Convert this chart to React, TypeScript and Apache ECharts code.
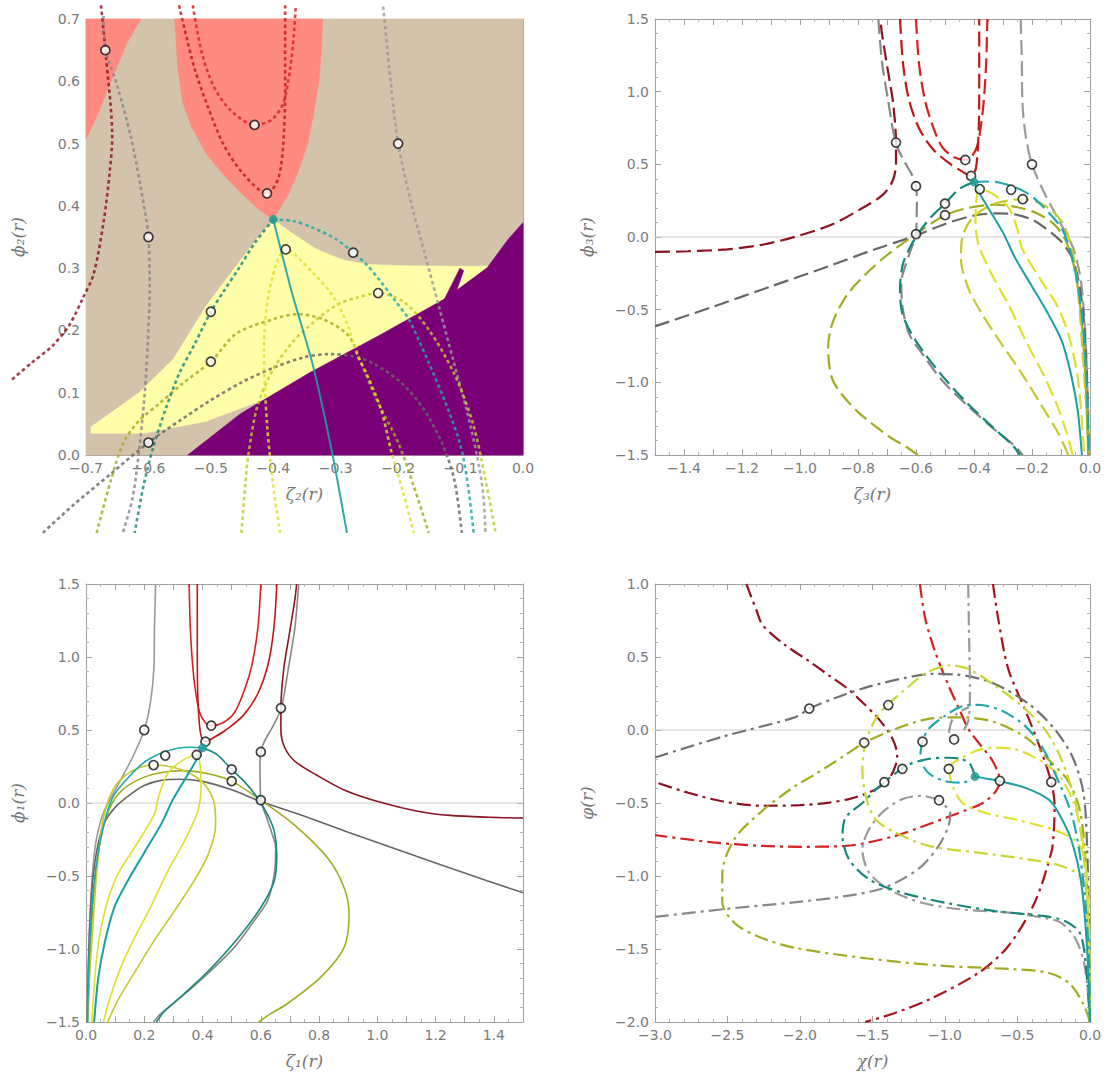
import React, { useEffect, useRef } from "react";
import * as echarts from "echarts";

type Pt = [number, number];

// ---------------- Panel 1: ζ2(r), ϕ2(r) ----------------
const p1Tan: Pt[] = [[-0.7, 0], [0, 0], [0, 0.7], [-0.7, 0.7]];
const p1SalmonLeft: Pt[] = [[-0.7, 0.7], [-0.612, 0.7], [-0.635, 0.66], [-0.66, 0.6], [-0.68, 0.55], [-0.7, 0.507]];
const p1SalmonMid: Pt[] = [[-0.558, 0.7], [-0.321, 0.7], [-0.323, 0.65], [-0.327, 0.6], [-0.335, 0.55], [-0.345, 0.5], [-0.36, 0.455], [-0.375, 0.42], [-0.39, 0.395], [-0.4, 0.378], [-0.413, 0.387], [-0.43, 0.4], [-0.453, 0.422], [-0.48, 0.45], [-0.507, 0.483], [-0.53, 0.525], [-0.545, 0.565], [-0.553, 0.62]];
const p1Yellow: Pt[] = [[-0.4, 0.378], [-0.37, 0.356], [-0.33, 0.33], [-0.288, 0.313], [-0.25, 0.306], [-0.2, 0.304], [-0.1, 0.303], [-0.055, 0.303], [-0.055, 0.28], [-0.3, 0.14], [-0.42, 0.087], [-0.508, 0.054], [-0.607, 0.035], [-0.692, 0.035], [-0.692, 0.045], [-0.65, 0.075], [-0.615, 0.1], [-0.56, 0.154], [-0.507, 0.24], [-0.453, 0.312], [-0.42, 0.355]];
const p1Purple: Pt[] = [[-0.537, 0], [-0.453, 0.066], [-0.342, 0.132], [-0.232, 0.191], [-0.123, 0.252], [-0.057, 0.301], [-0.024, 0.346], [0, 0.373], [0, 0]];
const p1PurpleSpike: Pt[] = [[-0.14, 0.222], [-0.101, 0.3], [-0.095, 0.296], [-0.115, 0.24], [-0.128, 0.222]];

const p1DarkRed: Pt[] = [[-0.676, 0.722], [-0.669, 0.65], [-0.658, 0.51], [-0.662, 0.455], [-0.672, 0.373], [-0.688, 0.29], [-0.705, 0.252], [-0.727, 0.208], [-0.754, 0.175], [-0.787, 0.148], [-0.82, 0.12]];
const p1RedUpper: Pt[] = [[-0.529, 0.722], [-0.515, 0.648], [-0.496, 0.593], [-0.469, 0.554], [-0.43, 0.53], [-0.403, 0.538], [-0.384, 0.565], [-0.373, 0.62], [-0.367, 0.675], [-0.364, 0.722]];
const p1RedLower: Pt[] = [[-0.551, 0.722], [-0.54, 0.675], [-0.526, 0.62], [-0.507, 0.565], [-0.48, 0.499], [-0.447, 0.45], [-0.41, 0.42], [-0.392, 0.444], [-0.384, 0.499], [-0.381, 0.593], [-0.381, 0.675], [-0.381, 0.722]];
const p1GrayLeft: Pt[] = [[-0.672, 0.705], [-0.668, 0.649], [-0.65, 0.593], [-0.628, 0.51], [-0.612, 0.428], [-0.6, 0.35], [-0.598, 0.263], [-0.601, 0.181], [-0.606, 0.098], [-0.614, 0.016], [-0.625, -0.067], [-0.641, -0.125]];
const p1GrayRight: Pt[] = [[-0.224, 0.72], [-0.212, 0.6], [-0.2, 0.5], [-0.178, 0.4], [-0.156, 0.318], [-0.134, 0.236], [-0.112, 0.153], [-0.09, 0.071], [-0.074, 0.0], [-0.064, -0.06], [-0.06, -0.125]];
const p1DarkGray: Pt[] = [[-0.769, -0.125], [-0.72, -0.08], [-0.66, -0.03], [-0.6, 0.02], [-0.55, 0.055], [-0.5, 0.088], [-0.45, 0.117], [-0.4, 0.14], [-0.35, 0.157], [-0.31, 0.162], [-0.27, 0.158], [-0.238, 0.146], [-0.195, 0.116], [-0.16, 0.075], [-0.13, 0.02], [-0.11, -0.04], [-0.098, -0.125]];
const p1TealLeft: Pt[] = [[-0.4, 0.378], [-0.43, 0.34], [-0.455, 0.3], [-0.48, 0.262], [-0.5, 0.23], [-0.525, 0.18], [-0.551, 0.13], [-0.572, 0.075], [-0.593, 0.01], [-0.608, -0.05], [-0.622, -0.125]];
const p1TealRight: Pt[] = [[-0.4, 0.378], [-0.37, 0.376], [-0.337, 0.365], [-0.3, 0.347], [-0.272, 0.325], [-0.25, 0.305], [-0.23, 0.281], [-0.205, 0.248], [-0.182, 0.216], [-0.15, 0.146], [-0.123, 0.081], [-0.1, 0.015], [-0.088, -0.05], [-0.079, -0.125]];
const p1TealSolid: Pt[] = [[-0.4, 0.378], [-0.37, 0.26], [-0.337, 0.146], [-0.305, 0.0], [-0.282, -0.125]];
const p1OliveB: Pt[] = [[-0.683, -0.125], [-0.66, -0.04], [-0.64, 0.02], [-0.615, 0.055], [-0.582, 0.083], [-0.545, 0.115], [-0.5, 0.15], [-0.459, 0.195], [-0.4, 0.218], [-0.362, 0.226], [-0.32, 0.218], [-0.28, 0.192], [-0.26, 0.15], [-0.235, 0.09], [-0.2, 0.02], [-0.175, -0.05], [-0.151, -0.125]];
const p1YellowC: Pt[] = [[-0.451, -0.125], [-0.445, -0.05], [-0.44, 0.0], [-0.425, 0.08], [-0.4, 0.138], [-0.37, 0.18], [-0.346, 0.204], [-0.3, 0.24], [-0.265, 0.253], [-0.232, 0.26], [-0.19, 0.245], [-0.15, 0.2], [-0.11, 0.13], [-0.08, 0.05], [-0.06, -0.04], [-0.044, -0.125]];
const p1YellowD: Pt[] = [[-0.389, -0.125], [-0.4, -0.05], [-0.41, 0.05], [-0.415, 0.17], [-0.405, 0.27], [-0.38, 0.33], [-0.335, 0.291], [-0.303, 0.253], [-0.281, 0.209], [-0.265, 0.16], [-0.249, 0.127], [-0.227, 0.072], [-0.211, 0.006], [-0.192, -0.06], [-0.175, -0.125]];

const zetaPts: Pt[] = [[-0.669, 0.65], [-0.43, 0.53], [-0.41, 0.42], [-0.2, 0.5], [-0.6, 0.35], [-0.38, 0.33], [-0.272, 0.325], [-0.232, 0.26], [-0.5, 0.23], [-0.5, 0.15], [-0.6, 0.02]];
const zetaFilled: Pt[] = [[-0.4, 0.378]];

// ---------------- Panel 2: ζ3(r), ϕ3(r) ----------------
const p2DarkRed: Pt[] = [[-1.5, -0.103], [-1.386, -0.098], [-1.25, -0.085], [-1.138, -0.056], [-1.014, 0.003], [-0.89, 0.086], [-0.791, 0.192], [-0.717, 0.286], [-0.682, 0.38], [-0.669, 0.5], [-0.669, 0.65], [-0.679, 0.923], [-0.698, 1.158], [-0.717, 1.394], [-0.723, 1.5]];
const p2GrayLeft: Pt[] = [[-0.73, 1.5], [-0.717, 1.2], [-0.697, 0.95], [-0.67, 0.65], [-0.64, 0.52], [-0.612, 0.42], [-0.6, 0.35], [-0.597, 0.25], [-0.598, 0.12], [-0.6, 0.02], [-0.62, -0.1], [-0.645, -0.25], [-0.651, -0.307], [-0.646, -0.489], [-0.623, -0.67], [-0.577, -0.807], [-0.509, -0.989], [-0.417, -1.17], [-0.326, -1.33], [-0.257, -1.443], [-0.232, -1.5]];
const p2TealLeft: Pt[] = [[-0.4, 0.378], [-0.451, 0.33], [-0.5, 0.23], [-0.543, 0.148], [-0.589, 0.034], [-0.623, -0.08], [-0.646, -0.193], [-0.655, -0.352], [-0.646, -0.534], [-0.6, -0.716], [-0.52, -0.93], [-0.425, -1.14], [-0.335, -1.31], [-0.268, -1.43], [-0.242, -1.5]];
const p2RedUpper: Pt[] = [[-0.6, 1.5], [-0.59, 1.2], [-0.57, 0.95], [-0.545, 0.78], [-0.51, 0.62], [-0.47, 0.55], [-0.43, 0.53], [-0.41, 0.55], [-0.39, 0.62], [-0.375, 0.78], [-0.365, 0.97], [-0.358, 1.2], [-0.354, 1.5]];
const p2RedLower: Pt[] = [[-0.655, 1.5], [-0.645, 1.2], [-0.625, 0.95], [-0.59, 0.75], [-0.54, 0.6], [-0.48, 0.5], [-0.44, 0.45], [-0.41, 0.42], [-0.395, 0.46], [-0.387, 0.6], [-0.383, 0.8], [-0.382, 1.1], [-0.382, 1.5]];
const p2GrayRight: Pt[] = [[-0.239, 1.5], [-0.235, 1.2], [-0.233, 0.923], [-0.222, 0.7], [-0.2, 0.5], [-0.159, 0.31], [-0.109, 0.121], [-0.06, -0.067], [-0.035, -0.256], [-0.022, -0.49], [-0.013, -0.8], [-0.008, -1.1], [-0.004, -1.5]];
const p2DarkGray: Pt[] = [[-1.5, -0.615], [-1.3, -0.48], [-1.1, -0.34], [-0.9, -0.2], [-0.75, -0.09], [-0.6, 0.01], [-0.5, 0.09], [-0.4, 0.148], [-0.32, 0.163], [-0.257, 0.155], [-0.2, 0.12], [-0.16, 0.07], [-0.1, -0.03], [-0.06, -0.15], [-0.035, -0.35], [-0.02, -0.6], [-0.01, -1.0], [-0.004, -1.5]];
const p2TealRight: Pt[] = [[-0.4, 0.378], [-0.36, 0.382], [-0.314, 0.375], [-0.257, 0.341], [-0.22, 0.305], [-0.189, 0.261], [-0.143, 0.17], [-0.097, 0.057], [-0.07, -0.08], [-0.045, -0.3], [-0.025, -0.6], [-0.012, -1.0], [-0.005, -1.5]];
const p2TealSolid: Pt[] = [[-0.4, 0.378], [-0.375, 0.28], [-0.349, 0.193], [-0.3, 0.03], [-0.257, -0.148], [-0.2, -0.34], [-0.143, -0.534], [-0.097, -0.716], [-0.065, -0.95], [-0.042, -1.2], [-0.028, -1.5]];
const p2OliveA: Pt[] = [[-0.593, -1.5], [-0.634, -1.443], [-0.691, -1.375], [-0.806, -1.193], [-0.886, -0.989], [-0.903, -0.761], [-0.886, -0.58], [-0.829, -0.375], [-0.714, -0.148], [-0.6, 0.02], [-0.5, 0.15], [-0.42, 0.2], [-0.33, 0.222], [-0.25, 0.205], [-0.18, 0.16], [-0.12, 0.08], [-0.08, -0.04], [-0.05, -0.25], [-0.03, -0.55], [-0.015, -1.0], [-0.006, -1.5]];
const p2YellowC: Pt[] = [[-0.075, -1.5], [-0.109, -1.352], [-0.17, -1.15], [-0.234, -0.943], [-0.3, -0.75], [-0.371, -0.534], [-0.42, -0.35], [-0.445, -0.15], [-0.44, 0.0], [-0.41, 0.12], [-0.36, 0.2], [-0.3, 0.245], [-0.232, 0.26], [-0.18, 0.24], [-0.13, 0.18], [-0.09, 0.08], [-0.06, -0.1], [-0.04, -0.4], [-0.025, -0.8], [-0.012, -1.2], [-0.006, -1.5]];
const p2YellowD: Pt[] = [[-0.06, -1.5], [-0.08, -1.35], [-0.115, -1.15], [-0.16, -0.95], [-0.22, -0.72], [-0.28, -0.47], [-0.33, -0.29], [-0.36, -0.17], [-0.385, -0.05], [-0.395, 0.1], [-0.392, 0.25], [-0.38, 0.33], [-0.33, 0.29], [-0.28, 0.2], [-0.25, 0.05], [-0.234, -0.08], [-0.166, -0.307], [-0.109, -0.489], [-0.07, -0.7], [-0.04, -1.0], [-0.02, -1.5]];

// ---------------- Panel 3: ζ1(r), ϕ1(r) (mirror image of panel 2) ----------------
const mirror = (a: Pt[]): Pt[] => a.map(([x, y]) => [-x, y] as Pt);

// ---------------- Panel 4: χ(r), φ(r) ----------------
const p4DarkRedLeft: Pt[] = [[-2.37, 1.0], [-2.3, 0.82], [-2.256, 0.716], [-2.1, 0.58], [-1.95, 0.48], [-1.799, 0.373], [-1.68, 0.29], [-1.57, 0.19], [-1.47, 0.09], [-1.387, -0.016], [-1.345, -0.1], [-1.33, -0.176], [-1.342, -0.245], [-1.387, -0.336], [-1.45, -0.39], [-1.524, -0.428], [-1.65, -0.47], [-1.799, -0.497], [-2.0, -0.515], [-2.256, -0.519], [-2.53, -0.49], [-2.77, -0.43], [-3.0, -0.357]];
const p4RedMid: Pt[] = [[-1.173, 1.0], [-1.136, 0.762], [-1.067, 0.533], [-0.976, 0.305], [-0.9, 0.14], [-0.839, 0.007], [-0.75, -0.11], [-0.679, -0.199], [-0.635, -0.29], [-0.622, -0.348], [-0.656, -0.428], [-0.74, -0.5], [-0.839, -0.543], [-1.113, -0.645], [-1.342, -0.725], [-1.685, -0.794], [-2.0, -0.8], [-2.256, -0.794], [-2.6, -0.77], [-3.0, -0.72]];
const p4DarkRedRight: Pt[] = [[-0.669, 1.0], [-0.633, 0.762], [-0.564, 0.419], [-0.45, 0.144], [-0.358, -0.085], [-0.267, -0.357], [-0.244, -0.519], [-0.25, -0.7], [-0.267, -0.84], [-0.382, -1.183], [-0.564, -1.481], [-0.77, -1.664], [-1.113, -1.847], [-1.35, -1.94], [-1.55, -2.0]];
const p4GrayUpper: Pt[] = [[-3.0, -0.188], [-2.524, -0.043], [-2.028, 0.089], [-1.936, 0.147], [-1.7, 0.24], [-1.532, 0.295], [-1.284, 0.355], [-1.086, 0.384], [-0.912, 0.379], [-0.664, 0.319], [-0.416, 0.174], [-0.243, 0.005], [-0.119, -0.188], [-0.045, -0.43], [-0.02, -0.8], [-0.008, -1.3], [0, -2.0]];
const p4GrayLower: Pt[] = [[-3.0, -1.28], [-2.524, -1.227], [-2.028, -1.179], [-1.7, -1.14], [-1.456, -1.092], [-1.296, -1.023], [-1.159, -0.931], [-1.044, -0.794], [-0.976, -0.657], [-0.964, -0.565], [-0.999, -0.519], [-1.04, -0.481]];
const p4GrayLoop: Pt[] = [[-1.04, -0.481], [-1.159, -0.451], [-1.296, -0.474], [-1.433, -0.565], [-1.524, -0.68], [-1.57, -0.817], [-1.524, -0.977], [-1.387, -1.092], [-1.159, -1.183], [-0.884, -1.229], [-0.541, -1.252], [-0.3, -1.29], [-0.2, -1.32], [-0.1, -1.43], [-0.04, -1.6], [-0.01, -1.85], [0, -2.0]];
const p4GrayVertical: Pt[] = [[-0.84, 1.0], [-0.835, 0.7], [-0.83, 0.45], [-0.828, 0.3], [-0.83, 0.15], [-0.84, 0.06], [-0.87, 0.0]];
const p4GrayHook: Pt[] = [[-0.972, -0.02], [-0.955, 0.06], [-0.92, 0.11], [-0.87, 0.14], [-0.835, 0.155]];
const p4OliveLight: Pt[] = [[0, -2.0], [-0.01, -1.5], [-0.03, -1.15], [-0.07, -1.0], [-0.198, -0.931], [-0.427, -0.886], [-0.77, -0.84], [-1.113, -0.794], [-1.342, -0.703], [-1.479, -0.611], [-1.547, -0.451], [-1.57, -0.268], [-1.547, -0.085], [-1.479, 0.076], [-1.396, 0.174], [-1.296, 0.259], [-1.15, 0.38], [-1.067, 0.419], [-0.976, 0.442], [-0.839, 0.419], [-0.656, 0.304], [-0.473, 0.167], [-0.313, 0.007], [-0.198, -0.199], [-0.1, -0.5], [-0.04, -0.9], [-0.01, -1.5], [0, -2.0]];
const p4Olive: Pt[] = [[0, -2.0], [-0.045, -1.879], [-0.144, -1.734], [-0.292, -1.662], [-0.54, -1.638], [-1.036, -1.614], [-1.532, -1.565], [-2.028, -1.493], [-2.276, -1.42], [-2.45, -1.324], [-2.536, -1.179], [-2.536, -0.986], [-2.45, -0.744], [-2.256, -0.55], [-2.028, -0.38], [-1.913, -0.314], [-1.7, -0.18], [-1.559, -0.089], [-1.342, 0.007], [-1.113, 0.076], [-0.884, 0.087], [-0.656, 0.053], [-0.427, -0.062], [-0.267, -0.222], [-0.15, -0.35], [-0.07, -0.55], [-0.03, -0.9], [-0.01, -1.4], [0, -2.0]];
const p4YellowUpper: Pt[] = [[-0.974, -0.266], [-0.95, -0.23], [-0.903, -0.201], [-0.789, -0.144], [-0.674, -0.121], [-0.514, -0.133], [-0.377, -0.19], [-0.285, -0.247], [-0.2, -0.33], [-0.12, -0.48], [-0.06, -0.7], [-0.025, -1.0], [-0.008, -1.5], [0, -2.0]];
const p4YellowLower: Pt[] = [[-0.974, -0.266], [-0.965, -0.32], [-0.949, -0.384], [-0.88, -0.499], [-0.72, -0.568], [-0.514, -0.613], [-0.331, -0.659], [-0.194, -0.705], [-0.1, -0.76], [-0.045, -0.85], [-0.015, -1.1], [-0.004, -1.5], [0, -2.0]];
const p4TealSolid: Pt[] = [[-0.793, -0.319], [-0.7, -0.335], [-0.622, -0.35], [-0.445, -0.396], [-0.285, -0.476], [-0.217, -0.568], [-0.13, -0.75], [-0.06, -1.05], [-0.02, -1.5], [0, -2.0]];
const p4TealArc: Pt[] = [[0, -2.0], [-0.01, -1.5], [-0.05, -1.0], [-0.12, -0.6], [-0.244, -0.291], [-0.336, -0.108], [-0.45, 0.03], [-0.61, 0.133], [-0.77, 0.172], [-0.884, 0.162], [-0.999, 0.098], [-1.113, 0.007], [-1.155, -0.08], [-1.17, -0.18], [-1.12, -0.29], [-1.0, -0.35], [-0.88, -0.36], [-0.793, -0.319]];
const p4DarkTeal: Pt[] = [[-0.793, -0.319], [-0.83, -0.23], [-0.9, -0.195], [-0.972, -0.19], [-1.109, -0.197], [-1.247, -0.236], [-1.338, -0.293], [-1.476, -0.407], [-1.57, -0.5], [-1.685, -0.6], [-1.707, -0.725], [-1.662, -0.886], [-1.524, -1.023], [-1.296, -1.114], [-0.999, -1.183], [-0.656, -1.24], [-0.313, -1.275], [-0.17, -1.31], [-0.07, -1.39], [-0.03, -1.6], [0, -2.0]];

const chiPts: Pt[] = [[-1.936, 0.147], [-1.391, 0.171], [-1.557, -0.087], [-1.155, -0.08], [-0.937, -0.065], [-1.294, -0.266], [-1.418, -0.357], [-0.974, -0.266], [-0.622, -0.348], [-0.267, -0.357], [-1.041, -0.481]];
const chiFilled: Pt[] = [[-0.793, -0.319]];

// ---------------- colours ----------------
const C = {
  darkRed: "#8c1420",
  red: "#d42222",
  red2: "#c01818",
  gray: "#9a9a9a",
  grayMid: "#888888",
  darkGray: "#666666",
  teal: "#22a8aa",
  tealDark: "#17877c",
  olive: "#a3ab22",
  yellowOlive: "#c6c92a",
  yellow: "#dfe02c",
  oliveLight: "#cbd635",
};

const DOT = [3.5, 3];
const DASH = [15, 6];
const DASHDOT = [14, 5, 3, 5];

interface Panel {
  left: number; top: number; width: number; height: number;
  x: [number, number, number, number, boolean];
  y: [number, number, number, number];
  xName: string; yName: string;
}

const panels: Panel[] = [
  { left: 86, top: 19, width: 437, height: 436, x: [-0.7, 0, 0.1, 5, false], y: [0, 0.7, 0.1, 5], xName: "ζ₂(r)", yName: "ϕ₂(r)" },
  { left: 655, top: 19, width: 435, height: 436, x: [-1.5, 0, 0.1, 2, true], y: [-1.5, 1.5, 0.5, 5], xName: "ζ₃(r)", yName: "ϕ₃(r)" },
  { left: 86, top: 584, width: 437, height: 438, x: [0, 1.5, 0.1, 2, true], y: [-1.5, 1.5, 0.5, 5], xName: "ζ₁(r)", yName: "ϕ₁(r)" },
  { left: 655, top: 584, width: 435, height: 438, x: [-3, 0, 0.5, 5, false], y: [-2, 1, 0.5, 5], xName: "χ(r)", yName: "φ(r)" },
];

// Overlay for panel 1 curves that run past the frame: same scale, wider range, hidden axes.
const ovX: [number, number] = [-0.83, 0];
const ovY: [number, number] = [-0.14, 0.73];

const FRAME = "#a0a0a0";
const LABEL = "#7a7a7a";

const fmt = (hideOdd: boolean) => (v: number) => {
  const k = Math.round(v * 10);
  if (hideOdd && k % 2 !== 0) return "";
  const s = (k / 10).toFixed(1);
  return s === "-0.0" ? "0.0" : s.replace("-", "−");
};

const nameStyle = { fontFamily: "DejaVu Serif", fontStyle: "italic", fontSize: 17, color: "#777" };

function buildAxes() {
  const xAxis: any[] = [];
  const yAxis: any[] = [];
  panels.forEach((p, i) => {
    const [xmin, xmax, xint, xminor, hideOdd] = p.x;
    const [ymin, ymax, yint, yminor] = p.y;
    const common = {
      type: "value",
      gridIndex: i,
      splitLine: { show: false },
      axisLine: { show: true, onZero: false, lineStyle: { color: FRAME, width: 1 } },
      axisTick: { show: true, inside: true, length: 6, lineStyle: { color: FRAME } },
      minorSplitLine: { show: false },
    };
    const minorX = { show: true, splitNumber: xminor, length: 3, lineStyle: { color: "#b4b4b4" } };
    const minorY = { show: true, splitNumber: yminor, length: 3, lineStyle: { color: "#b4b4b4" } };
    xAxis.push({
      ...common, position: "bottom", min: xmin, max: xmax, interval: xint, minorTick: minorX,
      axisLabel: { show: true, color: LABEL, fontFamily: "DejaVu Sans", fontSize: 14, margin: 6, formatter: fmt(hideOdd), showMinLabel: true, showMaxLabel: true },
      name: p.xName, nameLocation: "middle", nameGap: 30, nameTextStyle: nameStyle,
    });
    xAxis.push({ ...common, position: "top", min: xmin, max: xmax, interval: xint, minorTick: minorX, axisLabel: { show: false } });
    yAxis.push({
      ...common, position: "left", min: ymin, max: ymax, interval: yint, minorTick: minorY,
      axisLabel: { show: true, color: LABEL, fontFamily: "DejaVu Sans", fontSize: 14, margin: 6, formatter: fmt(false), showMinLabel: true, showMaxLabel: true },
      name: p.yName, nameLocation: "middle", nameGap: 60, nameRotate: 90, nameTextStyle: nameStyle,
    });
    yAxis.push({ ...common, position: "right", min: ymin, max: ymax, interval: yint, minorTick: minorY, axisLabel: { show: false } });
  });
  // overlay axes (index 8)
  xAxis.push({ type: "value", gridIndex: 4, min: ovX[0], max: ovX[1], show: false });
  yAxis.push({ type: "value", gridIndex: 4, min: ovY[0], max: ovY[1], show: false });
  return { xAxis, yAxis };
}

function line(data: Pt[], color: string, dash: any, width: number, axisIdx: number, opts: any = {}) {
  return {
    type: "line",
    xAxisIndex: axisIdx,
    yAxisIndex: axisIdx,
    data,
    symbol: "none",
    showSymbol: false,
    smooth: opts.smooth ?? 0.3,
    clip: opts.clip ?? true,
    silent: true,
    z: opts.z ?? 3,
    lineStyle: { color, width, type: dash, opacity: opts.opacity ?? 1, cap: "butt" },
  };
}

function poly(points: Pt[], color: string, axisIdx: number) {
  return {
    type: "custom",
    xAxisIndex: axisIdx,
    yAxisIndex: axisIdx,
    z: 1,
    silent: true,
    clip: false,
    data: [points[0]],
    renderItem: (_params: any, api: any) => ({
      type: "polygon",
      shape: { points: points.map((p) => api.coord(p)) },
      style: { fill: color, stroke: color, lineWidth: 0.6 },
    }),
  };
}

function dots(data: Pt[], axisIdx: number, filled = false) {
  return {
    type: "scatter",
    xAxisIndex: axisIdx,
    yAxisIndex: axisIdx,
    data,
    symbol: "circle",
    symbolSize: filled ? 8 : 9,
    silent: true,
    z: 10,
    clip: false,
    itemStyle: filled
      ? { color: "#1f9a92", borderColor: "#1f9a92", borderWidth: 1 }
      : { color: "#ffffff", borderColor: "#111111", borderWidth: 1.7 },
  };
}

function zeroLine(axisIdx: number, xmin: number, xmax: number) {
  return line([[xmin, 0], [xmax, 0]], "#cccccc", "solid", 1, axisIdx, { smooth: false, z: 2 });
}

function buildSeries() {
  const s: any[] = [];
  // Panel 1 regions
  s.push(poly(p1Tan, "#d4c3ab", 0));
  s.push(poly(p1SalmonLeft, "#ff8b80", 0));
  s.push(poly(p1SalmonMid, "#ff8b80", 0));
  s.push(poly(p1Yellow, "#ffffaa", 0));
  s.push(poly(p1Purple, "#7b0078", 0));
  s.push(poly(p1PurpleSpike, "#7b0078", 0));
  const OV = 8;
  const o1 = { opacity: 0.82 };
  const w1 = 2.6;
  s.push(line(p1DarkRed, C.darkRed, DOT, w1, OV, o1));
  s.push(line(p1RedUpper, C.red, DOT, w1, OV, o1));
  s.push(line(p1RedLower, C.red2, DOT, w1, OV, o1));
  s.push(line(p1GrayLeft, C.grayMid, DOT, w1, OV, o1));
  s.push(line(p1GrayRight, C.gray, DOT, w1, OV, o1));
  s.push(line(p1DarkGray, C.darkGray, DOT, w1, OV, o1));
  s.push(line(p1OliveB, C.olive, DOT, w1, OV, o1));
  s.push(line(p1YellowC, C.yellowOlive, DOT, w1, OV, o1));
  s.push(line(p1YellowD, C.yellow, DOT, w1, OV, o1));
  s.push(line(p1TealLeft, C.tealDark, DOT, w1, OV, o1));
  s.push(line(p1TealRight, C.teal, DOT, w1, OV, o1));
  s.push(line(p1TealSolid, "#1d9ea3", "solid", 2, OV, { opacity: 0.9, smooth: 0.2 }));
  s.push(dots(zetaPts, 0));
  s.push(dots(zetaFilled, 0, true));

  // Panel 2 (dashed) and panel 3 (solid mirror)
  const p2Curves: [Pt[], string][] = [
    [p2DarkRed, C.darkRed],
    [p2GrayLeft, C.grayMid],
    [p2RedUpper, C.red],
    [p2RedLower, C.red2],
    [p2GrayRight, C.gray],
    [p2DarkGray, C.darkGray],
    [p2OliveA, C.olive],
    [p2YellowC, C.yellowOlive],
    [p2YellowD, C.yellow],
    [p2TealLeft, C.tealDark],
    [p2TealRight, C.teal],
  ];
  s.push(zeroLine(2, -1.5, 0));
  p2Curves.forEach(([d, c]) => s.push(line(d, c, DASH, 2.2, 2)));
  s.push(line(p2TealSolid, "#1d9ea3", "solid", 2, 2));
  s.push(dots(zetaPts, 2));
  s.push(dots(zetaFilled, 2, true));

  s.push(zeroLine(4, 0, 1.5));
  p2Curves.forEach(([d, c]) => s.push(line(mirror(d), c, "solid", 1.6, 4)));
  s.push(line(mirror(p2TealSolid), "#1d9ea3", "solid", 2, 4));
  s.push(dots(mirror(zetaPts), 4));
  s.push(dots(mirror(zetaFilled), 4, true));

  // Panel 4 (dash-dot)
  s.push(zeroLine(6, -3, 0));
  const p4Curves: [Pt[], string][] = [
    [p4DarkRedLeft, C.darkRed],
    [p4RedMid, C.red],
    [p4DarkRedRight, "#a8141c"],
    [p4GrayUpper, "#727272"],
    [p4GrayLower, C.grayMid],
    [p4GrayLoop, C.gray],
    [p4GrayVertical, C.gray],
    [p4GrayHook, C.gray],
    [p4Olive, C.olive],
    [p4OliveLight, C.oliveLight],
    [p4YellowUpper, C.yellow],
    [p4YellowLower, C.yellow],
    [p4DarkTeal, C.tealDark],
    [p4TealArc, C.teal],
  ];
  p4Curves.forEach(([d, c]) => s.push(line(d, c, DASHDOT, 2.2, 6)));
  s.push(line(p4TealSolid, "#1d9ea3", "solid", 2, 6));
  s.push(dots(chiPts, 6));
  s.push(dots(chiFilled, 6, true));
  return s;
}

export default function App() {
  const ref = useRef<HTMLDivElement>(null);
  useEffect(() => {
    if (!ref.current) return;
    const chart = echarts.init(ref.current, undefined, { renderer: "svg" });
    const { xAxis, yAxis } = buildAxes();
    const p1 = panels[0];
    const sx = p1.width / (p1.x[1] - p1.x[0]);
    const sy = p1.height / (p1.y[1] - p1.y[0]);
    const overlayGrid = {
      left: p1.left - (p1.x[0] - ovX[0]) * sx,
      top: p1.top - (ovY[1] - p1.y[1]) * sy,
      width: (ovX[1] - ovX[0]) * sx,
      height: (ovY[1] - ovY[0]) * sy,
      containLabel: false,
    };
    chart.setOption({
      animation: false,
      backgroundColor: "#ffffff",
      grid: [
        ...panels.map((p) => ({ left: p.left, top: p.top, width: p.width, height: p.height, containLabel: false })),
        overlayGrid,
      ],
      xAxis,
      yAxis,
      series: buildSeries(),
    });
    return () => chart.dispose();
  }, []);
  return (
    <div
      ref={ref}
      style={{ position: "absolute", left: 0, top: 0, width: 1107, height: 1091, background: "#fff" }}
    />
  );
}
